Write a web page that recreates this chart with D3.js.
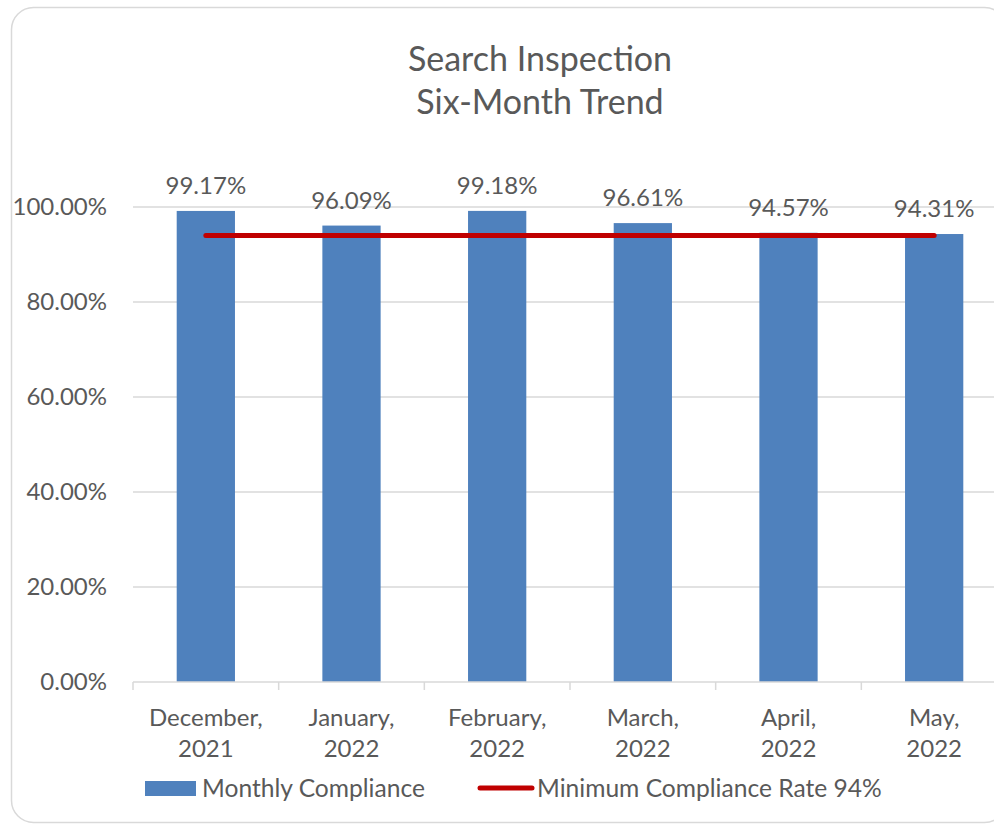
<!DOCTYPE html>
<html><head><meta charset="utf-8">
<script src="https://cdn.jsdelivr.net/npm/d3@7"></script>
<style>body{margin:0;background:#fff}svg{display:block}text{font-family:"Lato","Open Sans",sans-serif;fill:#595959}</style>
</head><body><svg id="c" width="994" height="825"></svg>
<script>
const categories = ["December, 2021","January, 2022","February, 2022","March, 2022","April, 2022","May, 2022"];
const compliance = [99.17, 96.09, 99.18, 96.61, 94.57, 94.31];
const minimumRate = [94, 94, 94, 94, 94, 94];
const yTicks = [0, 20, 40, 60, 80, 100];
const titleLines = ["Search Inspection", "Six-Month Trend"];
const seriesNames = ["Monthly Compliance", "Minimum Compliance Rate 94%"];

const svg = d3.select("#c");
svg.append("rect").attr("x",11.5).attr("y",7.5).attr("width",995).attr("height",815)
  .attr("rx",22).attr("fill","#fff").attr("stroke","#d9d9d9").attr("stroke-width",1.5);

const x = d3.scaleBand().domain(categories).range([133,1007]).paddingInner(0.6).paddingOuter(0.3);
const xb = d3.scaleBand().domain(categories).range([133,1007]);
const y = d3.scaleLinear().domain([0,100]).range([682,207]);

svg.append("g").selectAll("line").data(yTicks.filter(d=>d>0)).join("line")
  .attr("x1",133).attr("x2",1007).attr("y1",d=>y(d)).attr("y2",d=>y(d))
  .attr("stroke","#d9d9d9").attr("stroke-width",1.5);

svg.append("g").selectAll("text").data(yTicks).join("text")
  .attr("x",107).attr("y",d=>y(d)).attr("dy","0.35em").attr("text-anchor","end")
  .attr("font-size",24).text(d=>d3.format(".2f")(d)+"%");

svg.append("g").selectAll("rect").data(compliance).join("rect")
  .attr("x",(d,i)=>x(categories[i])).attr("width",x.bandwidth())
  .attr("y",d=>y(d)).attr("height",d=>y(0)-y(d)).attr("fill","#4f81bd");

// axis
svg.append("line").attr("x1",133).attr("x2",1007).attr("y1",y(0)).attr("y2",y(0))
  .attr("stroke","#d9d9d9").attr("stroke-width",1.5);
const bounds = categories.map(c=>xb(c)).concat([xb(categories[5])+xb.bandwidth()]);
svg.append("g").selectAll("line").data(bounds).join("line")
  .attr("x1",d=>d).attr("x2",d=>d).attr("y1",y(0)).attr("y2",y(0)+8)
  .attr("stroke","#d9d9d9").attr("stroke-width",1.5);

svg.append("g").selectAll("text").data(categories).join("text")
  .attr("text-anchor","middle").attr("font-size",24)
  .attr("transform",d=>`translate(${xb(d)+xb.bandwidth()/2},726)`)
  .each(function(d){
    const parts = d.split(" ");
    d3.select(this).append("tspan").attr("x",0).attr("y",0).text(parts[0]);
    d3.select(this).append("tspan").attr("x",0).attr("y",31).text(parts[1]);
  });

// line
const line = d3.line().x((d,i)=>xb(categories[i])+xb.bandwidth()/2).y(d=>y(d));
svg.append("path").datum(minimumRate).attr("d",line).attr("fill","none")
  .attr("stroke","#c00000").attr("stroke-width",5).attr("stroke-linecap","round");

// data labels
svg.append("g").selectAll("text").data(compliance).join("text")
  .attr("x",(d,i)=>xb(categories[i])+xb.bandwidth()/2).attr("y",d=>y(d)-17)
  .attr("text-anchor","middle").attr("font-size",24).text(d=>d.toFixed(2)+"%");

// title
svg.append("g").selectAll("text").data(titleLines).join("text")
  .attr("x",540).attr("y",(d,i)=>71+i*43).attr("text-anchor","middle")
  .attr("font-size",34).text(d=>d);

// legend
const lg = svg.append("g");
lg.append("rect").attr("x",145).attr("y",781).attr("width",51).attr("height",15).attr("fill","#4f81bd");
lg.append("text").attr("x",202).attr("y",788).attr("dy","0.35em").attr("font-size",24.6).text(seriesNames[0]);
lg.append("line").attr("x1",480).attr("x2",532).attr("y1",788).attr("y2",788)
  .attr("stroke","#c00000").attr("stroke-width",5).attr("stroke-linecap","round");
lg.append("text").attr("x",537).attr("y",788).attr("dy","0.35em").attr("font-size",24.6).text(seriesNames[1]);
</script></body></html>
